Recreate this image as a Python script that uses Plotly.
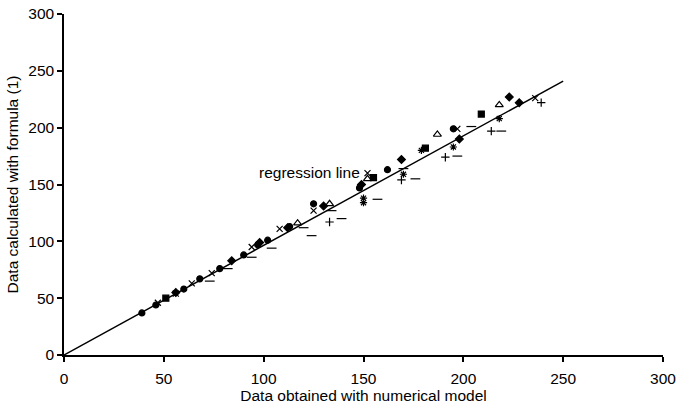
import plotly.graph_objects as go

# Data
circle_x = [39, 46, 60, 68, 78, 90, 97, 102, 113, 125, 148, 162, 195]
circle_y = [37, 44, 58, 67, 76, 88, 97, 101, 113, 133, 147, 163, 199]
diamond_x = [56, 84, 98, 112, 130, 149, 169, 198, 223, 228]
diamond_y = [55, 83, 99, 112, 131, 150, 172, 190, 227, 222]
square_x = [51, 155, 181, 209]
square_y = [50, 156, 182, 212]
triangle_x = [117, 133, 152, 187, 218]
triangle_y = [116, 133, 155, 194, 220]
xmark_x = [47, 56, 64, 74, 94, 108, 125, 152, 197, 236]
xmark_y = [46, 54, 63, 72, 95, 111, 127, 160, 199, 226]
star_x = [150, 150, 170, 179, 195, 218]
star_y = [138, 134, 159, 180, 183, 208]
plus_x = [133, 169, 191, 214, 239]
plus_y = [117, 154, 174, 197, 222]
dash_x = [73, 82, 94, 104, 120, 124, 134, 139, 157, 170, 176, 197, 204, 219]
dash_y = [65, 76, 86, 94, 112, 105, 127, 120, 137, 164, 155, 175, 201, 197]
reg_x = [0, 250]
reg_y = [0, 241]

FONT = "Liberation Sans, Arial"

fig = go.Figure()
fig.add_trace(go.Scatter(x=reg_x, y=reg_y, mode="lines",
                         line=dict(color="black", width=1.5), hoverinfo="skip"))

series = [
    (circle_x, circle_y, "circle", 6),
    (diamond_x, diamond_y, "diamond", 6),
    (square_x, square_y, "square", 6),
    (triangle_x, triangle_y, "triangle-up-open", 7),
    (xmark_x, xmark_y, "x-thin-open", 6),
    (star_x, star_y, "asterisk-open", 6),
    (plus_x, plus_y, "cross-thin-open", 6),
    (dash_x, dash_y, "line-ew-open", 7),
]
for xs, ys, sym, sz in series:
    fig.add_trace(go.Scatter(
        x=xs, y=ys, mode="markers",
        marker=dict(symbol=sym, size=sz, color="black",
                    line=dict(color="black", width=1.2)),
    ))

fig.add_annotation(x=123, y=161, text="regression line", showarrow=False,
                   font=dict(size=15.5, color="black", family=FONT))

axis_common = dict(
    range=[0, 300], dtick=50, showgrid=False, zeroline=False,
    showline=True, linecolor="black", linewidth=1.5,
    ticks="outside", ticklen=5, tickcolor="black", tickwidth=1.5,
    tickfont=dict(size=15.5, color="black", family=FONT),
)
fig.update_xaxes(**axis_common, ticklabelstandoff=4,
                 title=dict(text="Data obtained with numerical model",
                            font=dict(size=15.5, color="black", family=FONT),
                            standoff=1))
fig.update_yaxes(**axis_common,
                 title=dict(text="Data calculated with formula (1)",
                            font=dict(size=15.5, color="black", family=FONT),
                            standoff=6))

fig.update_layout(
    width=677, height=406, showlegend=False,
    paper_bgcolor="white", plot_bgcolor="white",
    margin=dict(l=64, r=14, t=14, b=51, autoexpand=False),
)
fig.write_html("out.html")
